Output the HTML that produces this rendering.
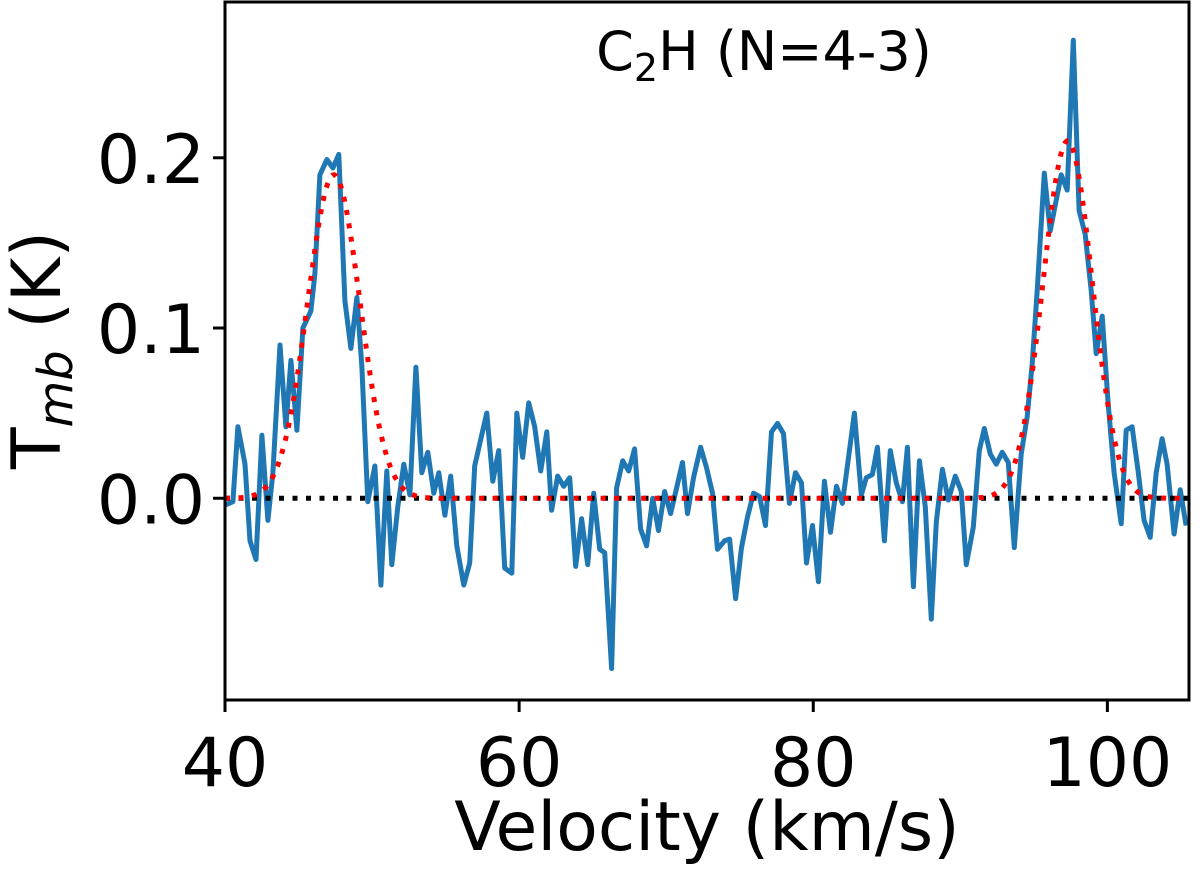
<!DOCTYPE html>
<html><head><meta charset="utf-8"><style>
body{margin:0;background:#fff}
svg{display:block;font-family:"DejaVu Sans","Liberation Sans",sans-serif}
</style></head><body>
<svg id="chart" width="1200" height="881">
<g id="plot"></g>
</svg>
<script>
const velocities=[40.00,40.54,40.88,41.36,41.70,42.11,42.51,42.92,43.26,43.74,44.14,44.48,44.89,45.30,45.84,46.11,46.45,46.93,47.34,47.74,48.15,48.56,48.97,49.31,49.71,50.19,50.60,51.00,51.34,51.75,52.16,52.57,52.98,53.38,53.79,54.20,54.54,54.95,55.35,55.76,56.24,56.64,56.98,57.40,57.80,58.21,58.61,59.02,59.50,59.84,60.24,60.65,61.06,61.47,61.88,62.21,62.62,63.03,63.44,63.85,64.25,64.66,65.07,65.48,65.82,66.29,66.63,67.04,67.45,67.85,68.26,68.67,69.08,69.48,69.89,70.30,70.71,71.11,71.45,71.86,72.34,72.74,73.15,73.49,73.97,74.31,74.72,75.12,75.53,75.94,76.35,76.75,77.16,77.57,77.98,78.38,78.79,79.20,79.54,79.95,80.35,80.76,81.17,81.58,81.98,82.32,82.80,83.27,83.61,84.02,84.36,84.84,85.24,85.65,86.06,86.40,86.81,87.22,87.62,88.03,88.37,88.78,89.18,89.66,90.07,90.41,90.88,91.29,91.63,92.04,92.45,92.85,93.26,93.67,94.14,94.55,94.89,95.23,95.71,96.11,96.52,96.86,97.27,97.68,98.08,98.49,98.90,99.24,99.65,100.05,100.46,100.94,101.28,101.68,102.09,102.50,102.91,103.32,103.72,104.06,104.54,104.95,105.35];
const temps=[-0.004,-0.002,0.042,0.02,-0.025,-0.036,0.037,-0.013,0.015,0.09,0.042,0.081,0.04,0.1,0.11,0.132,0.19,0.199,0.194,0.202,0.116,0.088,0.118,0.077,-0.002,0.019,-0.051,0.016,-0.039,-0.005,0.02,0.002,0.077,0.015,0.027,0.003,0.015,-0.01,0.013,-0.028,-0.051,-0.038,0.019,0.035,0.05,0.01,0.028,-0.041,-0.044,0.05,0.024,0.056,0.042,0.016,0.039,-0.007,0.013,0.007,0.012,-0.04,-0.012,-0.039,0.003,-0.03,-0.032,-0.1,0.006,0.022,0.016,0.029,-0.018,-0.028,0,-0.019,0.004,-0.009,0.006,0.021,-0.009,0.012,0.03,0.018,0.003,-0.03,-0.025,-0.024,-0.059,-0.029,-0.011,0.003,0.001,-0.016,0.039,0.044,0.038,-0.003,0.015,0.009,-0.038,-0.016,-0.049,0.01,-0.02,0.007,-0.003,0.019,0.05,0.002,0.012,0.014,0.03,-0.025,0.028,0.009,-0.002,0.03,-0.052,0.022,-0.005,-0.071,-0.014,0.017,-0.001,0.013,0.004,-0.039,-0.017,0.028,0.041,0.026,0.02,0.027,0.021,-0.029,0.026,0.048,0.079,0.122,0.191,0.157,0.175,0.19,0.181,0.269,0.169,0.155,0.122,0.085,0.107,0.056,0.015,-0.015,0.04,0.042,0.016,-0.013,-0.023,0.015,0.035,0.02,-0.021,0.005,-0.016];
const fitAmps=[0.19,0.21];
const fitCenters=[47.4,97.3];
const fitSigmas=[1.78,1.67];
const xTicks=[40,60,80,100];
const xTickLabels=["40","60","80","100"];
const yTicks=[0,0.1,0.2];
const yTickLabels=["0.0","0.1","0.2"];

const L=225,R=1189,T=2,B=700;
const xMin=40,xMax=105.55,yMin=-0.1185,yMax=0.2915;
const xs=v=>L+(v-xMin)/(xMax-xMin)*(R-L);
const ys=t=>B-(t-yMin)/(yMax-yMin)*(B-T);
const NS="http://www.w3.org/2000/svg";
const g=document.getElementById('plot');
function mk(tag,attrs){const e=document.createElementNS(NS,tag);for(const k in attrs)e.setAttribute(k,attrs[k]);g.appendChild(e);return e;}

let d=velocities.map((v,i)=>(i?'L':'M')+xs(v).toFixed(1)+','+ys(temps[i]).toFixed(1)).join('');
const sp=mk('path',{d:d,fill:'none',stroke:'#1f77b4','stroke-width':5,'stroke-linejoin':'round'});



const zl=mk('line',{x1:L,x2:R,y1:ys(0),y2:ys(0),stroke:'#000','stroke-width':5,'stroke-dasharray':'5 8.5'});



let fd='';
for(let i=0;i<=600;i++){const v=xMin+(xMax-xMin)*i/600;let t=0;for(let k=0;k<fitAmps.length;k++)t+=fitAmps[k]*Math.exp(-0.5*((v-fitCenters[k])/fitSigmas[k])**2);fd+=(i?'L':'M')+xs(v).toFixed(1)+','+ys(t).toFixed(1);}
const fl=mk('path',{d:fd,fill:'none',stroke:'#ff0000','stroke-width':5,'stroke-dasharray':'5 8.5'});



const fr=mk('rect',{x:L,y:T,width:R-L,height:B-T,fill:'none',stroke:'#000','stroke-width':3});



xTicks.forEach((v,i)=>{
 const tk=mk('line',{x1:xs(v),x2:xs(v),y1:B,y2:B+12,stroke:'#000','stroke-width':3});
 
 
 const tx=mk('text',{x:xs(v),y:786,'text-anchor':'middle','font-size':68});
 tx.textContent=xTickLabels[i];
 
 
});
yTicks.forEach((v,i)=>{
 const tk=mk('line',{x1:L-12,x2:L,y1:ys(v),y2:ys(v),stroke:'#000','stroke-width':3});
 
 
 const tx=mk('text',{x:205,y:ys(v)+25,'text-anchor':'end','font-size':68});
 tx.textContent=yTickLabels[i];
 
 
});
</script>
<svg style="position:absolute;left:0;top:0" width="1200" height="881">
<text x="707" y="850" text-anchor="middle" font-size="68" font-family="DejaVu Sans, Liberation Sans, sans-serif">Velocity (km/s)</text>
<text transform="translate(60,350) rotate(-90)" text-anchor="middle" font-size="68" font-family="DejaVu Sans, Liberation Sans, sans-serif">T<tspan font-style="italic" font-size="48" dy="12">mb</tspan><tspan dy="-12"> (K)</tspan></text>
<text x="764" y="70" text-anchor="middle" font-size="54" font-family="DejaVu Sans, Liberation Sans, sans-serif">C<tspan font-size="38" dy="11">2</tspan><tspan dy="-11">H (N=4-3)</tspan></text>
</svg>
</body></html>
